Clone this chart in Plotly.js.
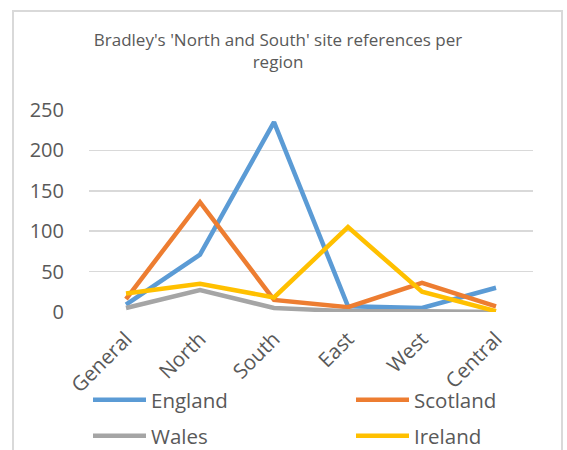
<!DOCTYPE html>
<html>
<head>
<meta charset="utf-8">
<script src="https://cdn.plot.ly/plotly-3.0.1.min.js"></script>
<style>html,body{margin:0;padding:0;background:#fff;}#chart{width:567px;height:450px;}</style>
</head>
<body>
<div id="chart"></div>
<script>
const regions = ["General", "North", "South", "East", "West", "Central"];
const england = [9, 71, 235, 7, 5, 30];
const scotland = [16, 136, 15, 6, 36, 7];
const wales = [5, 27, 5, 1, 1, 0];
const ireland = [23, 35, 18, 105, 25, 1];
const seriesNames = ["England", "Scotland", "Wales", "Ireland"];
const seriesColors = ["#5B9BD5", "#ED7D31", "#A5A5A5", "#FFC000"];
const seriesValues = [england, scotland, wales, ireland];
const yTicks = [0, 50, 100, 150, 200, 250];

const FONT = "Open Sans, Noto Sans, sans-serif";
const legendIds = ["legend", "legend2", "legend3", "legend4"];
const traces = seriesValues.map((vals, i) => ({
  type: "scatter",
  mode: "lines",
  x: regions,
  y: vals,
  name: seriesNames[i],
  legend: legendIds[i],
  line: {color: seriesColors[i], width: 4.5},
  hoverinfo: "x+y+name"
}));

// plot area in pixels: x 89..533, y 110..312
const W = 567, H = 450;
const px = v => (v - 89) / 444;
const py = v => (312 - v) / 202;
function mkLegend(left, centerY) {
  return {
    orientation: "v",
    xref: "paper", yref: "container",
    x: px(left), xanchor: "left",
    y: 1 - centerY / H, yanchor: "middle",
    font: {family: FONT, size: 20.5, color: "#595959"},
    bgcolor: "rgba(0,0,0,0)",
    borderwidth: 0,
    itemwidth: 53
  };
}

const layout = {
  width: W,
  height: H,
  margin: {l: 89, r: 34, t: 110, b: 138},
  paper_bgcolor: "#ffffff",
  plot_bgcolor: "#ffffff",
  font: {family: FONT, color: "#595959"},
  title: {
    text: "Bradley's 'North and South' site references per<br>region",
    font: {family: FONT, size: 17, color: "#595959"},
    x: 278 / W, xanchor: "center", xref: "container",
    y: 1 - 46 / H, yanchor: "middle", yref: "container"
  },
  xaxis: {
    type: "category",
    range: [-0.5, 5.5],
    showgrid: false,
    showline: false,
    zeroline: false,
    ticks: "",
    tickangle: -45,
    ticklabelstandoff: 10,
    tickfont: {family: FONT, size: 20.5, color: "#595959"},
    automargin: false,
    fixedrange: true
  },
  yaxis: {
    range: [0, 250],
    tickvals: yTicks,
    ticktext: yTicks.map(String),
    showgrid: true,
    gridcolor: "#D9D9D9",
    gridwidth: 1.5,
    zeroline: false,
    showline: false,
    ticks: "",
    ticklabelstandoff: 24,
    tickfont: {family: FONT, size: 20, color: "#595959"},
    automargin: false,
    fixedrange: true
  },
  showlegend: true,
  legend: mkLegend(88, 400),
  legend2: mkLegend(351, 400),
  legend3: mkLegend(88, 436),
  legend4: mkLegend(351, 436),
  shapes: [{
    type: "rect", xref: "paper", yref: "paper",
    x0: px(13), x1: px(562),
    y0: py(470), y1: py(11),
    line: {color: "#D9D9D9", width: 2},
    fillcolor: "rgba(0,0,0,0)",
    layer: "below"
  }]
};

Plotly.newPlot("chart", traces, layout, {displayModeBar: false, staticPlot: true});
</script>
</body>
</html>
